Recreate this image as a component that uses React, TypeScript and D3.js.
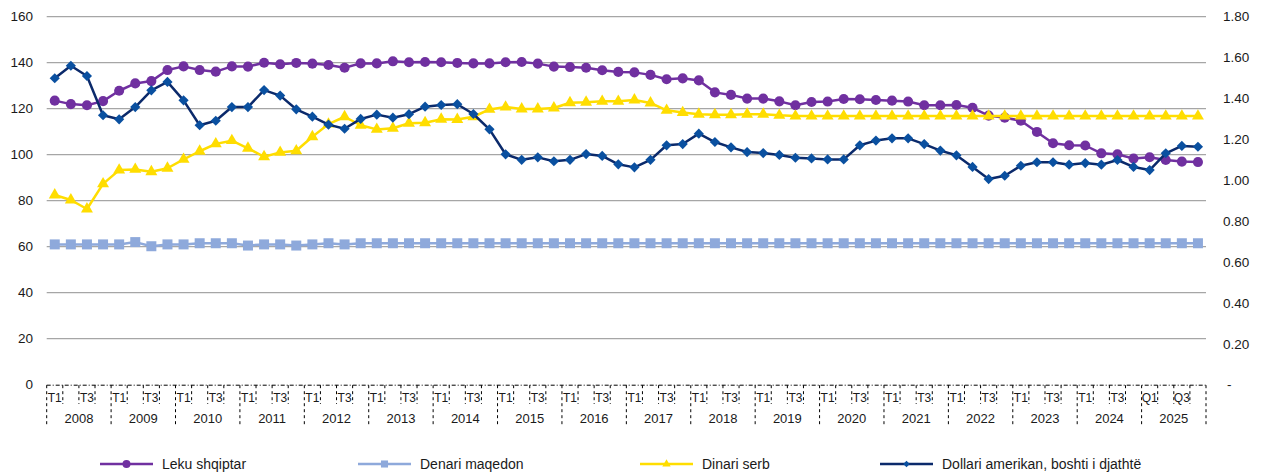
import React from "react";
import * as d3 from "d3";

const years = ["2008","2009","2010","2011","2012","2013","2014","2015","2016","2017","2018","2019","2020","2021","2022","2023","2024","2025"];
const quarterNames = ["T1","T2","T3","T4"];
const quarterNamesLast = ["Q1","Q2","Q3","Q4"];

const leku = [123.5,122.0,121.5,123.3,127.8,131.0,132.0,136.8,138.4,136.8,
  136.1,138.4,138.3,140.0,139.3,139.9,139.6,139.0,137.8,139.7,
  139.7,140.6,140.2,140.3,140.2,139.9,139.7,139.7,140.2,140.3,
  139.6,138.3,138.1,137.8,136.7,136.0,135.8,134.7,132.8,133.2,
  132.3,127.1,126.0,124.4,124.4,123.2,121.5,122.9,123.1,124.2,
  124.1,123.8,123.5,123.1,121.5,121.5,121.6,120.4,117.0,116.1,
  114.8,109.9,105.0,104.1,104.0,100.6,100.2,98.3,98.9,97.7,
  97.0,96.8];

const denari = [61.0,61.0,61.0,61.0,61.0,62.0,60.2,61.0,61.0,61.5,
  61.5,61.5,60.5,61.0,61.0,60.5,61.0,61.5,61.0,61.5,
  61.5,61.5,61.5,61.5,61.5,61.5,61.5,61.5,61.5,61.5,
  61.5,61.5,61.5,61.5,61.5,61.5,61.5,61.5,61.5,61.5,
  61.5,61.5,61.5,61.5,61.5,61.5,61.5,61.5,61.5,61.5,
  61.5,61.5,61.5,61.5,61.5,61.5,61.5,61.5,61.5,61.5,
  61.5,61.5,61.5,61.5,61.5,61.5,61.5,61.5,61.5,61.5,
  61.5,61.5];

const dinari = [82.5,80.3,76.4,87.3,93.3,93.6,92.6,94.1,98.0,101.5,
  104.7,106.1,102.8,99.1,101.0,101.7,107.8,113.3,116.5,112.8,
  111.0,111.5,113.7,113.9,115.4,115.3,116.5,119.7,120.7,119.9,
  119.9,120.3,122.6,122.8,123.2,123.2,123.8,122.5,119.3,118.3,
  117.6,117.4,117.4,117.6,117.6,117.1,116.8,116.8,116.8,116.8,
  116.8,116.8,116.8,116.8,116.8,116.8,116.8,116.8,116.8,116.8,
  116.8,116.8,116.8,116.8,116.8,116.8,116.8,116.8,116.8,116.8,
  116.8,116.8];

const dollar = [1.499,1.560,1.510,1.318,1.298,1.358,1.440,1.481,1.391,1.269,
  1.291,1.358,1.358,1.441,1.414,1.347,1.311,1.272,1.252,1.300,
  1.321,1.306,1.323,1.360,1.368,1.372,1.324,1.249,1.127,1.100,
  1.112,1.093,1.100,1.128,1.119,1.078,1.063,1.100,1.171,1.177,
  1.228,1.187,1.161,1.138,1.133,1.124,1.110,1.107,1.102,1.102,
  1.171,1.194,1.205,1.205,1.177,1.145,1.122,1.065,1.006,1.022,
  1.071,1.088,1.088,1.076,1.084,1.076,1.099,1.065,1.050,1.132,
  1.168,1.164];

const leftTicks = [0,20,40,60,80,100,120,140,160];
const rightTicks = [0,0.2,0.4,0.6,0.8,1.0,1.2,1.4,1.6,1.8];

const seriesNames = ["Leku shqiptar","Denari maqedon","Dinari serb","Dollari amerikan, boshti i djathtë"];

const FONT = "'Liberation Sans', Arial, sans-serif";

export default function App() {
  const W = 1269, H = 475;
  const left = 46.7, right = 1206, top = 16.7, bottom = 384.7;

  const categories: { key: string; label: string; year: string; q: number }[] = [];
  years.forEach((y, yi) => {
    const names = yi === years.length - 1 ? quarterNamesLast : quarterNames;
    names.forEach((n, qi) => categories.push({ key: y + n, label: n, year: y, q: qi }));
  });

  const x = d3.scalePoint<string>().domain(categories.map(c => c.key)).range([left, right]).padding(0.5);
  const step = x.step();
  const yL = d3.scaleLinear().domain([0, 160]).range([bottom, top]);
  const yR = d3.scaleLinear().domain([0, 1.8]).range([bottom, top]);

  const pts = (vals: number[], ys: (v: number) => number) =>
    vals.map((v, i) => [x(categories[i].key) as number, ys(v)] as [number, number]);

  const line = d3.line();

  const circle = d3.symbol().type(d3.symbolCircle).size(80)() as string;
  const square = d3.symbol().type(d3.symbolSquare).size(100)() as string;
  const triangle = d3.symbol().type(d3.symbolTriangle).size(62)() as string;
  const diamond = d3.symbol().type(d3.symbolSquare).size(52)() as string;

  const series = [
    { name: seriesNames[0], vals: leku, ys: yL, stroke: "#7030A0", fill: "#7030A0", marker: circle, rot: 0, lc: d3.symbol().type(d3.symbolCircle).size(50)() as string },
    { name: seriesNames[1], vals: denari, ys: yL, stroke: "#8EA9DB", fill: "#8EA9DB", marker: square, rot: 0, lc: d3.symbol().type(d3.symbolSquare).size(50)() as string },
    { name: seriesNames[2], vals: dinari, ys: yL, stroke: "#FFDD00", fill: "#FFDD00", marker: triangle, rot: 0, lc: d3.symbol().type(d3.symbolTriangle).size(30)() as string },
    { name: seriesNames[3], vals: dollar, ys: yR, stroke: "#0B2A6B", fill: "#0A50A0", marker: diamond, rot: 45, lc: d3.symbol().type(d3.symbolSquare).size(22)() as string },
  ];

  const legendX = [100, 358, 640, 880];
  const legendY = 464;

  const boundaries = d3.range(categories.length + 1).map(i => left + i * step);

  return (
    <svg width={W} height={H} style={{ position: "absolute", left: 0, top: 0, background: "#fff" }} fontFamily={FONT}>
      {/* gridlines */}
      {leftTicks.filter(t => t > 0).map(t => (
        <line key={"g" + t} x1={left} x2={right} y1={yL(t)} y2={yL(t)} stroke="#A6A6A6" strokeWidth={1.3} />
      ))}
      {/* left axis labels */}
      {leftTicks.map(t => (
        <text key={"l" + t} x={33} y={yL(t)} dy="0.35em" textAnchor="end" fontSize={13.5} fill="#1a1a1a">{t}</text>
      ))}
      {/* right axis labels */}
      {rightTicks.map(t => (
        <text key={"r" + t} x={t === 0 ? 1227 : 1223} y={yR(t)} dy="0.35em" textAnchor="start" fontSize={13.5} fill="#1a1a1a">{t === 0 ? "-" : d3.format(".2f")(t)}</text>
      ))}
      {/* x axis line */}
      <line x1={left} x2={right} y1={bottom + 0.5} y2={bottom + 0.5} stroke="#000" strokeWidth={1} strokeDasharray="4,2,1,2" />
      {/* tick marks */}
      {boundaries.map((bx, i) => (
        <line key={"t" + i} x1={bx} x2={bx} y1={bottom + 0.5} y2={i % 4 === 0 ? 426 : 404} stroke="#000" strokeWidth={1} strokeDasharray="3,3" />
      ))}
      {/* quarter labels */}
      {categories.map((c, i) => (c.q % 2 === 0 ? (
        <text key={"q" + i} x={x(c.key) as number} y={398} dy="0.35em" textAnchor="middle" fontSize={12} fill="#1a1a1a">{c.label}</text>
      ) : null))}
      {/* year labels */}
      {years.map((y, yi) => (
        <text key={"y" + y} x={left + (yi * 4 + 2) * step} y={418} dy="0.35em" textAnchor="middle" fontSize={13} fill="#1a1a1a">{y}</text>
      ))}
      {/* series */}
      {series.map((s, si) => {
        const p = pts(s.vals, s.ys);
        return (
          <g key={"s" + si}>
            <path d={line(p) as string} fill="none" stroke={s.stroke} strokeWidth={2.5} strokeLinejoin="round" />
            {p.map((pt, i) => (
              <path key={i} d={s.marker} transform={`translate(${pt[0]},${pt[1]}) rotate(${s.rot})`} fill={s.fill} />
            ))}
          </g>
        );
      })}
      {/* legend */}
      {series.map((s, si) => (
        <g key={"lg" + si}>
          <line x1={legendX[si]} x2={legendX[si] + 53} y1={legendY} y2={legendY} stroke={s.stroke} strokeWidth={2.5} />
          <path d={s.lc} transform={`translate(${legendX[si] + 26.5},${legendY}) rotate(${s.rot})`} fill={s.fill} />
          <text x={legendX[si] + 62} y={legendY} dy="0.35em" fontSize={14} fill="#1a1a1a">{s.name}</text>
        </g>
      ))}
    </svg>
  );
}
